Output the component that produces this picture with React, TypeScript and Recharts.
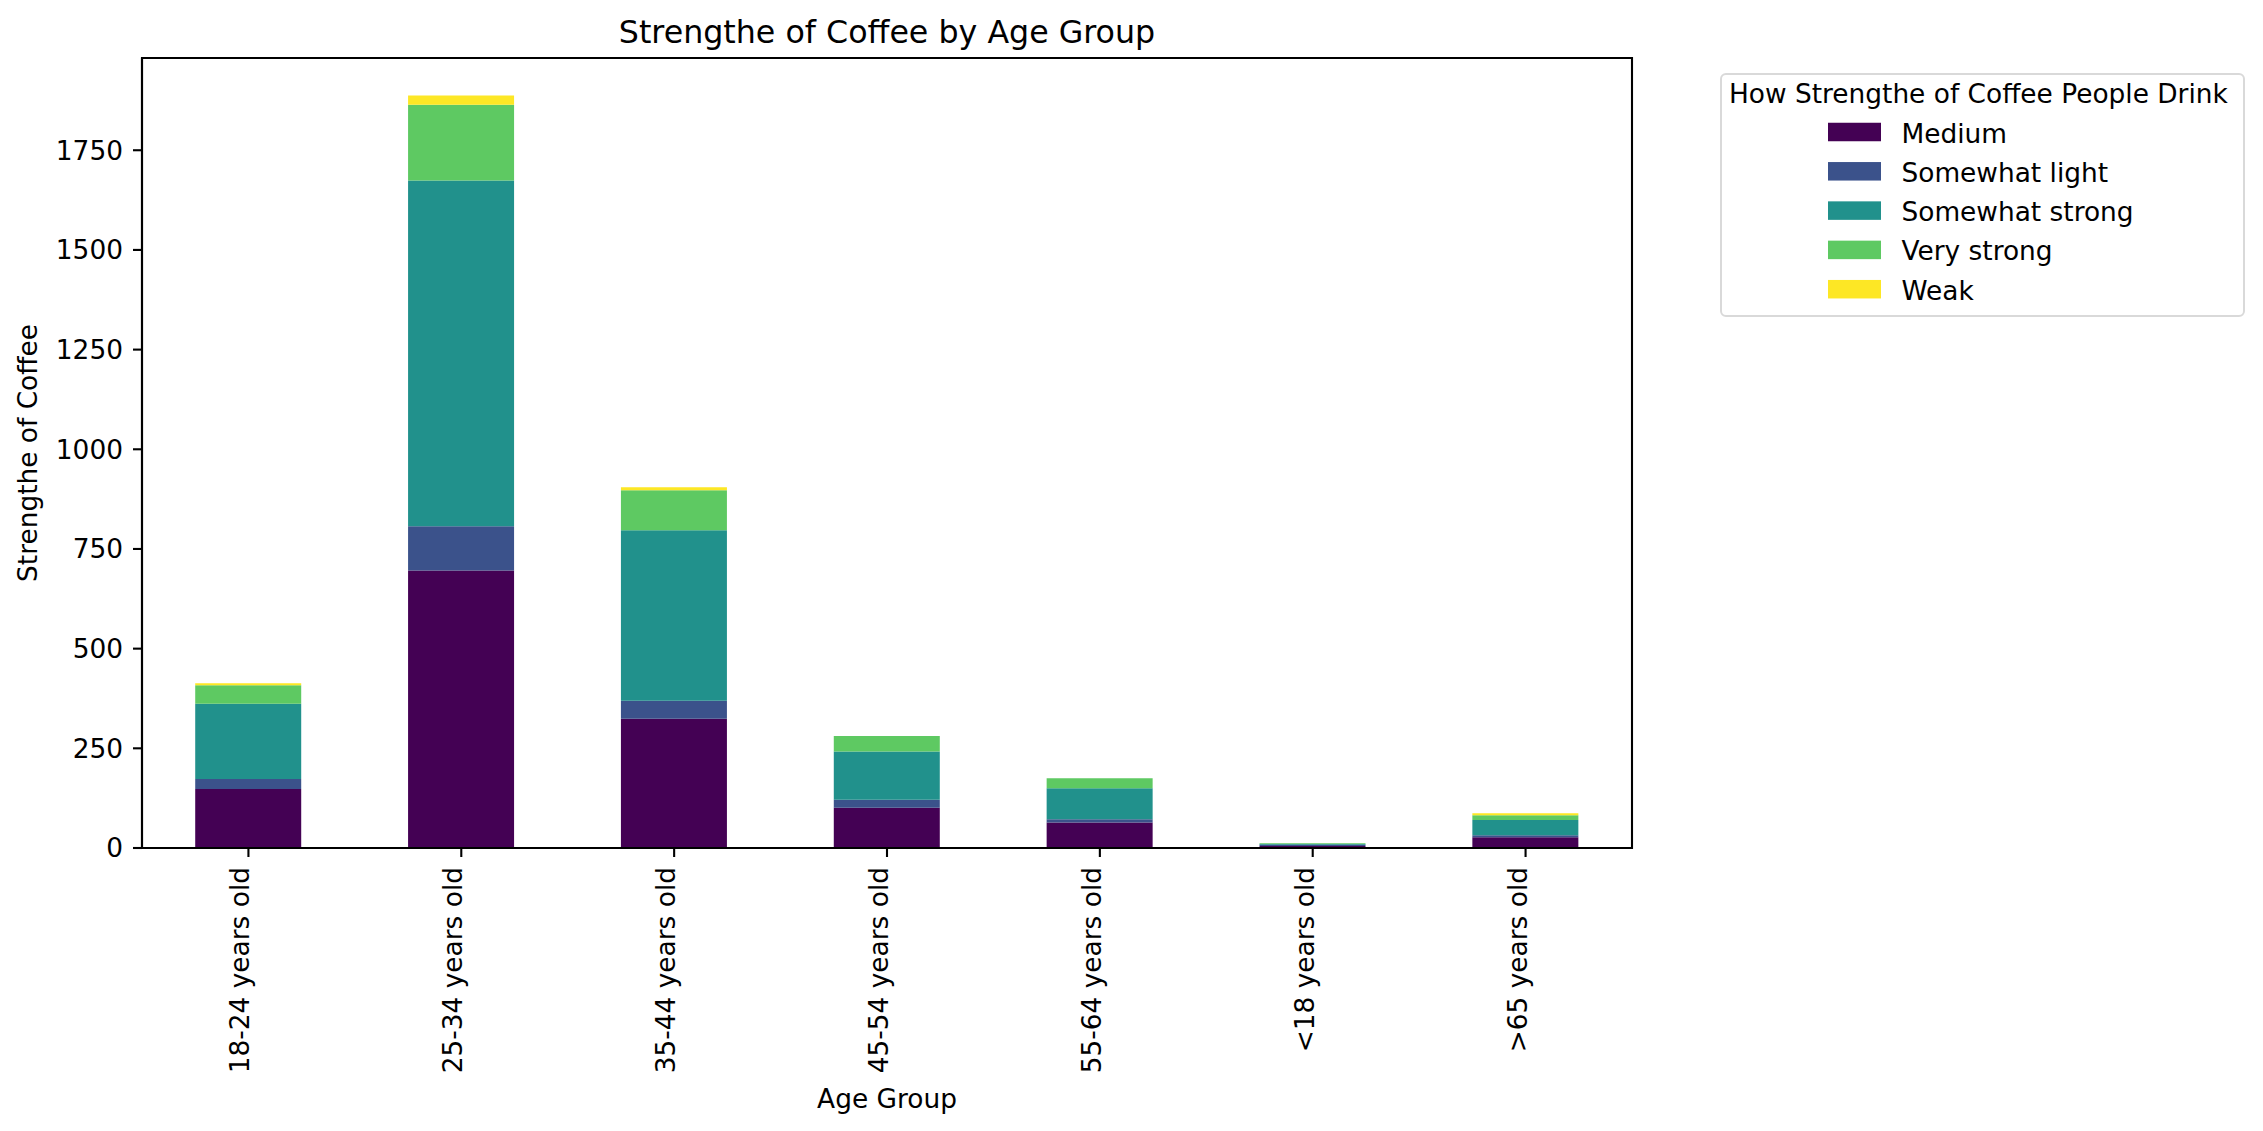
import React from 'react';
import { Bar, BarChart, Legend, ReferenceArea, XAxis, YAxis } from 'recharts';

const ageGroups = [
  '18-24 years old',
  '25-34 years old',
  '35-44 years old',
  '45-54 years old',
  '55-64 years old',
  '<18 years old',
  '>65 years old',
];
const medium = [148, 696, 324, 101, 64, 5, 27];
const somewhatLight = [25, 111, 45, 20, 8, 3, 5];
const somewhatStrong = [189, 867, 428, 121, 78, 2, 38];
const veryStrong = [46, 190, 100, 39, 25, 2, 12];
const weak = [5, 23, 8, 0, 0, 0, 5];
const yTicks = [0, 250, 500, 750, 1000, 1250, 1500, 1750];

const series = [
  { key: 'medium', name: 'Medium', color: '#440154' },
  { key: 'somewhatLight', name: 'Somewhat light', color: '#3b528b' },
  { key: 'somewhatStrong', name: 'Somewhat strong', color: '#21918c' },
  { key: 'veryStrong', name: 'Very strong', color: '#5ec962' },
  { key: 'weak', name: 'Weak', color: '#fde725' },
];

const data = ageGroups.map((age, i) => ({
  age,
  medium: medium[i],
  somewhatLight: somewhatLight[i],
  somewhatStrong: somewhatStrong[i],
  veryStrong: veryStrong[i],
  weak: weak[i],
}));

// matplotlib-style headroom: 5% above the tallest stack
const yMax = Math.max(...data.map((d) => d.medium + d.somewhatLight + d.somewhatStrong + d.veryStrong + d.weak)) * 1.05;

const FONT = 'DejaVu Sans';
const FS = 26.4;

const AgeTick = ({ x, y, payload }: any) => (
  <text
    x={x}
    y={y}
    transform={`rotate(-90, ${x}, ${y})`}
    textAnchor="end"
    dy={1}
    fontSize={FS}
    fontFamily={FONT}
    fill="#000"
  >
    {payload.value}
  </text>
);

const YLabel = (props: any) => {
  const vb = props.viewBox || { x: 0, y: 58, width: 142, height: 790 };
  const cx = vb.x + 37;
  const cy = vb.y + vb.height / 2;
  return (
    <text
      x={cx}
      y={cy}
      transform={`rotate(-90, ${cx}, ${cy})`}
      textAnchor="middle"
      fontSize={FS}
      fontFamily={FONT}
      fill="#000"
    >
      Strengthe of Coffee
    </text>
  );
};

const LegendBox = ({ payload }: any) => (
  <svg width={525} height={244} style={{ display: 'block' }}>
    <rect x={1} y={1} width={523} height={242} rx={5} ry={5} fill="#fff" stroke="#d9d9d9" strokeWidth={2} />
    <text x={9} y={30} fontSize={FS} fontFamily={FONT} fill="#000">
      How Strengthe of Coffee People Drink
    </text>
    {(payload || []).map((p: any, i: number) => {
      const cy = 59 + 39.3 * i;
      return (
        <g key={p.value}>
          <rect x={108} y={cy - 9.25} width={53} height={18.5} fill={p.color} />
          <text x={181.5} y={cy + 10.5} fontSize={FS} fontFamily={FONT} fill="#000">
            {p.value}
          </text>
        </g>
      );
    })}
  </svg>
);

const axisLine = { stroke: '#000', strokeWidth: 2.1 };

export default function App() {
  return (
    <div style={{ position: 'absolute', left: 0, top: 0, width: 2263, height: 1131, background: '#fff' }}>
      <BarChart
        width={2263}
        height={1131}
        data={data}
        margin={{ top: 58, right: 631, bottom: 0, left: 0 }}
        barCategoryGap="25%"
      >
        <XAxis
          dataKey="age"
          interval={0}
          height={283}
          tickSize={9}
          tickMargin={10}
          axisLine={axisLine}
          tickLine={axisLine}
          tick={<AgeTick />}
          label={{
            value: 'Age Group',
            position: 'insideBottom',
            offset: 23,
            fontSize: FS,
            fontFamily: FONT,
            fill: '#000',
          }}
        />
        <YAxis
          width={142}
          domain={[0, yMax]}
          ticks={yTicks}
          tickSize={9}
          tickMargin={10}
          axisLine={axisLine}
          tickLine={axisLine}
          tick={{ fill: '#000', fontSize: FS, fontFamily: FONT }}
          label={<YLabel />}
        />
        <Legend
          layout="horizontal"
          align="center"
          verticalAlign="middle"
          content={<LegendBox />}
          wrapperStyle={{ position: 'absolute', left: 1720, top: 73, width: 525, height: 244 }}
        />
        {series.map((s) => (
          <Bar key={s.key} dataKey={s.key} name={s.name} stackId="a" fill={s.color} isAnimationActive={false} />
        ))}
        <ReferenceArea
          x1={ageGroups[0]}
          x2={ageGroups[ageGroups.length - 1]}
          y1={0}
          y2={yMax}
          fill="none"
          fillOpacity={0}
          stroke="#000"
          strokeWidth={2.1}
          ifOverflow="visible"
          label={{
            value: 'Strengthe of Coffee by Age Group',
            position: 'top',
            offset: 15,
            fontSize: 31.7,
            fontFamily: FONT,
            fill: '#000',
          }}
        />
      </BarChart>
    </div>
  );
}
